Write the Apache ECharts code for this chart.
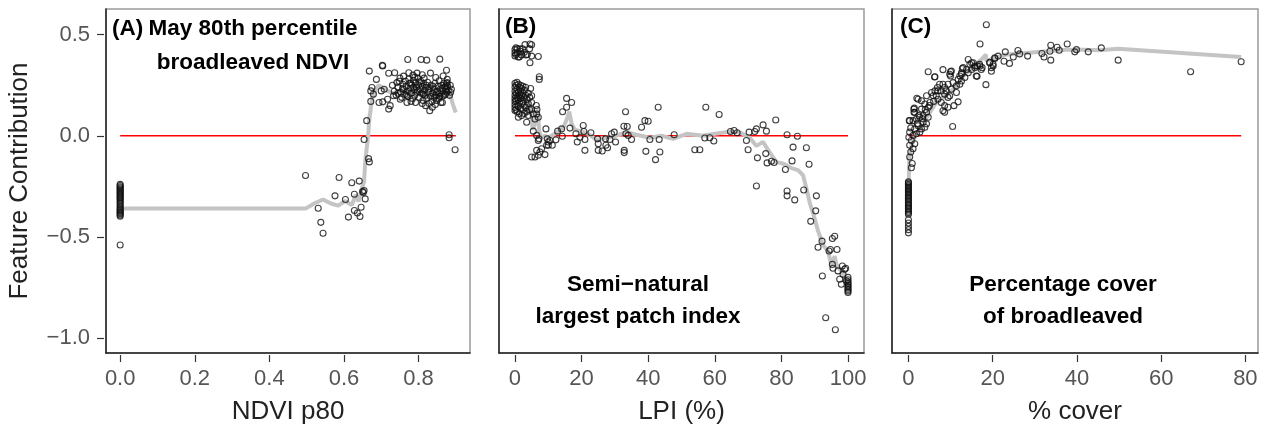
<!DOCTYPE html>
<html>
<head>
<meta charset="utf-8">
<title>Feature contribution</title>
<script src="https://cdn.jsdelivr.net/npm/echarts@6/dist/echarts.min.js"></script>
<style>
  html, body { margin: 0; padding: 0; background: #fff; }
  #chart { width: 1266px; height: 430px; }
</style>
</head>
<body>
<div id="chart"></div>
<script type="text/javascript">
// y axis (shared)
var yTicks = [-1.0, -0.5, 0.0, 0.5];
var yRange = [-1.074, 0.627];

// (A) NDVI p80
var ndviTicks = [0, 0.2, 0.4, 0.6, 0.8];
var ndviRange = [-0.038, 0.938];
var ndviZero = [0, 0.9];
var ndviPoints = [
  [0,-0.24],[0,-0.246],[0,-0.252],[0,-0.257],[0,-0.262],[0,-0.268],[0,-0.273],[0,-0.279],[0,-0.284],[0,-0.29],
  [0,-0.296],[0,-0.302],[0,-0.307],[0,-0.313],[0,-0.32],[0,-0.327],[0,-0.334],[0,-0.342],[0,-0.35],[0,-0.357],
  [0,-0.363],[0,-0.368],[0,-0.374],[0,-0.38],[0,-0.386],[0,-0.392],[0,-0.398],[0,-0.54],
  [0.497,-0.196],[0.531,-0.358],[0.538,-0.428],[0.544,-0.482],[0.576,-0.297],[0.587,-0.206],[0.604,-0.315],
  [0.612,-0.402],[0.621,-0.232],[0.628,-0.289],[0.628,-0.369],[0.636,-0.382],[0.641,-0.224],[0.643,-0.399],
  [0.646,-0.353],[0.65,-0.276],[0.654,-0.271],[0.657,-0.312],[0.652,-0.28],[0.654,-0.018],[0.661,0.075],
  [0.666,-0.113],[0.668,-0.129],
  [0.771,0.377],[0.807,0.377],[0.822,0.374],[0.857,0.379],[0.703,0.348],[0.704,0.345],[0.668,0.32],[0.72,0.309],
  [0.736,0.312],[0.875,0.324],[0.774,0.312],[0.796,0.31],[0.832,0.31],[0.846,0.288],[0.866,0.296],[0.687,0.279],
  [0.742,0.263],[0.785,0.3],[0.81,0.302],[0.76,0.295],[0.79,0.29],[0.75,0.285],[0.815,0.285],[0.855,0.272],
  [0.877,0.279],[0.877,0.263],[0.873,0.247],
  [0.73,0.25],[0.735,0.22],[0.74,0.2],[0.745,0.24],[0.748,0.27],[0.752,0.215],[0.755,0.19],[0.758,0.255],
  [0.76,0.23],[0.763,0.205],[0.765,0.27],[0.767,0.245],[0.77,0.22],[0.772,0.195],[0.774,0.28],[0.776,0.26],
  [0.778,0.235],[0.78,0.21],[0.782,0.25],[0.784,0.185],[0.786,0.275],[0.788,0.228],[0.79,0.2],[0.792,0.262],
  [0.794,0.24],[0.796,0.215],[0.798,0.285],[0.8,0.25],[0.802,0.19],[0.804,0.23],[0.806,0.27],[0.808,0.21],
  [0.81,0.245],[0.812,0.175],[0.814,0.26],[0.816,0.225],[0.818,0.2],[0.82,0.24],[0.822,0.185],[0.824,0.265],
  [0.826,0.215],[0.828,0.16],[0.83,0.235],[0.832,0.195],[0.834,0.25],[0.836,0.17],[0.838,0.21],[0.84,0.23],
  [0.842,0.19],[0.844,0.26],[0.846,0.2],[0.848,0.175],[0.85,0.22],[0.852,0.245],[0.854,0.185],[0.856,0.21],
  [0.858,0.23],[0.86,0.165],[0.862,0.25],[0.864,0.195],[0.866,0.22],[0.868,0.26],[0.87,0.24],[0.872,0.205],
  [0.874,0.23],[0.876,0.215],[0.878,0.245],[0.88,0.225],[0.883,0.2],
  [0.745,0.21],[0.757,0.235],[0.768,0.2],[0.779,0.26],[0.787,0.24],[0.797,0.225],[0.803,0.265],[0.813,0.205],
  [0.821,0.25],[0.827,0.23],[0.839,0.245],[0.847,0.215],[0.857,0.195],[0.863,0.235],[0.869,0.2],[0.875,0.26],
  [0.885,0.25],[0.888,0.23],[0.886,0.215],
  [0.83,0.124],[0.837,0.141],[0.819,0.149],[0.792,0.165],[0.769,0.165],[0.751,0.181],[0.864,0.165],[0.72,0.132],
  [0.724,0.149],[0.717,0.181],[0.733,0.198],[0.694,0.165],[0.704,0.168],[0.672,0.17],[0.7,0.222],[0.708,0.23],
  [0.675,0.239],[0.672,0.222],[0.679,0.206],[0.845,0.155],[0.78,0.17],[0.81,0.16],
  [0.882,0.005],[0.882,-0.01],[0.898,-0.069]
];
var ndviCurve = [
  [0,-0.36],[0.497,-0.36],[0.52,-0.335],[0.544,-0.315],[0.565,-0.335],[0.585,-0.345],[0.603,-0.322],
  [0.621,-0.342],[0.632,-0.292],[0.639,-0.325],[0.648,-0.26],[0.654,-0.227],[0.657,-0.13],[0.661,-0.06],
  [0.665,0.0],[0.668,0.08],[0.675,0.18],[0.685,0.23],[0.693,0.25],[0.702,0.24],[0.711,0.23],[0.729,0.21],
  [0.745,0.22],[0.76,0.225],[0.775,0.22],[0.79,0.215],[0.805,0.21],[0.82,0.2],[0.835,0.195],[0.85,0.19],
  [0.862,0.2],[0.87,0.215],[0.877,0.225],[0.885,0.2],[0.893,0.15],[0.9,0.115]
];

// (B) LPI (%)
var lpiTicks = [0, 20, 40, 60, 80, 100];
var lpiRange = [-4.8, 104.8];
var lpiZero = [0, 100];
var lpiPoints = [
  [0,0.426],[0,0.41],[0,0.395],[0.3,0.402],[0.3,0.435],[0.7,0.43],[0.7,0.41],[1,0.39],[1.3,0.39],[1.7,0.418],
  [2.3,0.43],[2.8,0.413],[3,0.451],[3.3,0.4],[3.7,0.402],[4.5,0.361],[4.5,0.454],[5,0.45],[5,0.394],[7,0.392],
  [7.3,0.292],[7.3,0.279],[4.4,0.43],[2,0.4],[1.5,0.43],
  [0,0.26],[0,0.24],[0,0.22],[0,0.2],[0,0.185],[0,0.17],[0,0.155],[0,0.14],[0,0.125],[0.3,0.25],[0.3,0.21],
  [0.3,0.175],[0.3,0.13],[0.6,0.265],[0.6,0.23],[0.6,0.19],[0.6,0.15],[0.6,0.12],[1,0.255],[1,0.215],[1,0.18],
  [1,0.145],[1,0.092],[1.3,0.24],[1.3,0.2],[1.3,0.165],[1.3,0.11],[1.7,0.25],[1.7,0.22],[1.7,0.185],[1.7,0.135],
  [2,0.235],[2,0.2],[2,0.16],[2,0.1],[2.4,0.245],[2.4,0.21],[2.4,0.17],[2.4,0.13],[2.8,0.225],[2.8,0.19],
  [2.8,0.15],[2.8,0.11],[3.2,0.24],[3.2,0.2],[3.2,0.14],[3.5,0.067],[3.6,0.18],[3.6,0.12],[4,0.21],[4,0.16],
  [4,0.1],[4.4,0.19],[4.4,0.13],[4.7,0.234],[5,0.198],[5,0.165],[5,0.13],[5.5,0.108],[6,0.083],[6.5,0.108],
  [7,0.092],[6.4,0.15],[6.6,0.13],
  [5.5,0.023],[6.5,0.002],[7,-0.023],[7.2,-0.015],[6.5,-0.072],[6,-0.105],[7,-0.096],[7.5,-0.08],[9,-0.093],
  [5,-0.105],[8,-0.064],[9.5,-0.047],[10,-0.031],
  [9.3,0.034],[9.7,-0.015],[10,-0.047],[10.5,-0.023],[11.2,-0.047],[12.3,-0.02],[12.8,0.023],[14.2,-0.002],
  [14.3,0.119],[14,0.034],[15.5,0.141],[15.5,0.185],[17,0.165],[16.5,0.038],[18.3,0.01],[18.7,-0.031],
  [19.5,-0.007],[20.5,0.051],[20.7,0.021],[21,-0.018],[21,-0.072],[22.8,0.015],[24.8,-0.015],[25,-0.039],
  [25,-0.072],[26.2,-0.075],[27.2,-0.015],[27.3,-0.047],[27.8,-0.059],[28.5,-0.018],[29,0.01],[29.8,0.018],
  [30.2,-0.031],[32.7,0.047],[32.8,-0.072],[32.8,-0.083],[33.2,0.119],[33.7,0.046],[33.3,0.01],[34,0.002],
  [35,-0.018],[38,0.042],[39,0.075],[40,0.072],[39.3,-0.077],[40.5,-0.018],[42.2,-0.118],[43,0.141],
  [43.3,-0.018],[43.5,-0.08],[47.8,0.005],[54,-0.069],[55.5,-0.069],[57.3,0.141],[57,-0.011],[58.5,-0.01],
  [59.7,-0.026],[61.3,0.105],[64.7,0.021],[65.8,0.026],[66.7,0.015],[69.5,-0.023],[70,-0.069],[70.3,0.018],
  [72,0.021],[72.5,0.034],[72.5,-0.248],[72.8,-0.109],[74.5,0.054],[75.3,-0.088],[75.5,0.023],[75.7,-0.134],
  [77,-0.126],[77.8,-0.132],[78.3,0.078],[81.2,-0.167],[81.7,0.005],[81.7,-0.273],[81.7,-0.297],[83.2,-0.124],
  [83.5,-0.056],[84,-0.317],[84.8,-0.002],[86.7,-0.268],[87.5,-0.059],[88.3,-0.141],[88.8,-0.423],[90.3,-0.371],
  [90.5,-0.297],[91,-0.551],[92.2,-0.521],[92.3,-0.693],[93.3,-0.9],[94.3,-0.57],[94.7,-0.562],[95.3,-0.508],
  [96,-0.497],[95.3,-0.636],[95.5,-0.655],[96.2,-0.959],[96.7,-0.562],[97,-0.668],[97.5,-0.709],[98.3,-0.644],
  [98,-0.734],[98.5,-0.685],[99,-0.66],[99.3,-0.655],[99.5,-0.717],
  [100,-0.70],[100,-0.712],[100,-0.722],[100,-0.73],[100,-0.738],[100,-0.745],[100,-0.752],[100,-0.76],
  [100,-0.768],[100,-0.775]
];
var lpiCurve = [
  [0,0.2],[2,0.19],[4,0.17],[4.8,0.12],[5.3,0.03],[6,0.06],[6.8,0.13],[7.3,0.02],[8,-0.01],[9,0.0],[10,-0.01],
  [12,0.01],[13.5,0.03],[14.5,0.04],[15.5,0.08],[16.3,0.12],[17,0.06],[18,0.03],[20,0.02],[22,0.01],
  [24.5,-0.02],[27,-0.01],[29.5,-0.005],[33.5,0.02],[36.5,0.005],[40.5,-0.01],[44,0.0],[47.5,-0.015],
  [51.5,0.01],[56.5,0.0],[60,0.01],[64.5,0.02],[67.5,0.018],[70.5,-0.01],[72.5,-0.05],[74.5,-0.03],[76,-0.07],
  [78.5,-0.13],[80,-0.135],[81.5,-0.145],[83,-0.16],[85,-0.17],[86.5,-0.195],[87.5,-0.26],[88.5,-0.33],
  [90,-0.41],[91,-0.47],[92.5,-0.54],[94,-0.57],[95,-0.64],[96,-0.595],[96.5,-0.636],[98,-0.67],[99,-0.7],
  [100,-0.75]
];

// (C) % cover
var coverTicks = [0, 20, 40, 60, 80];
var coverRange = [-3.9, 83];
var coverZero = [0, 79];
var coverPoints = [
  [0,-0.227],[0,-0.233],[0,-0.24],[0,-0.247],[0,-0.254],[0,-0.261],[0,-0.268],[0,-0.275],[0,-0.282],[0,-0.289],
  [0,-0.296],[0,-0.303],[0,-0.31],[0,-0.317],[0,-0.324],[0,-0.331],[0,-0.338],[0,-0.345],[0,-0.352],[0,-0.359],
  [0,-0.366],[0,-0.373],[0,-0.38],[0,-0.388],[0,-0.415],[0,-0.431],[0,-0.448],[0,-0.464],[0,-0.48],
  [0.7,-0.158],[0.9,-0.137],[0.3,-0.105],[0.55,-0.08],[1.1,-0.064],[0.3,-0.047],[1.5,-0.039],[0.7,-0.023],
  [0.1,-0.007],[1.1,0.002],[1.9,0.01],[0.3,0.018],[2.7,0.018],[1.5,0.034],[0.55,0.039],[3.1,0.034],[2.3,0.05],
  [3.9,0.042],[0.3,0.075],[1.1,0.075],[3.5,0.067],[4.3,0.059],[1.9,0.083],[2.7,0.092],[3.5,0.1],[4.7,0.092],
  [4.3,0.116],[1.5,0.116],[1.3,0.132],[3.1,0.132],[4.7,0.141],[3.9,0.157],[5.1,0.165],[2.3,0.181],[3.1,0.173],
  [4.3,0.198],[5.9,0.198],[6.3,0.222],[6.9,0.239],[7.4,0.255],[8.2,0.255],[9.4,0.255],[8.6,0.239],[7.8,0.222],
  [8.6,0.206],[9.8,0.198],[7,0.181],[7.8,0.165],[8.6,0.149],[8.2,0.124],[8.6,0.116],[9.4,0.141],[10.8,0.149],
  [11.8,0.168],[11.4,0.214],[10.5,0.046],[2,0.186],[1.4,0.137],[1.3,0.116],[0.2,0.075],
  [5.5,0.214],[6.6,0.198],[7,0.222],[9,0.222],[9.4,0.19],[10.2,0.23],[10.6,0.263],[11.4,0.247],[12.2,0.255],
  [12.6,0.271],[13.4,0.288],[14.2,0.312],[15,0.328],[2.5,0.1],[3.3,0.085],[4,0.13],[5,0.15],[6,0.17],[2.1,0.06],
  [4.7,0.317],[6.2,0.291],[8.2,0.327],[10,0.317],[10,0.296],[18.4,0.253],[16.3,0.294],[18.5,0.549],[17,0.454],
  [6.3,0.292],[9.8,0.304],[10.2,0.32],[11.8,0.279],[12.6,0.304],[13,0.337],[13.8,0.328],[14.6,0.353],
  [15.4,0.361],[16.1,0.296],[15.8,0.337],[17,0.345],[17.5,0.337],[19.3,0.361],[19.7,0.337],[20.1,0.353],
  [20.5,0.386],[21.3,0.394],[14.2,0.377],[15,0.361],[15.8,0.345],[16.4,0.345],[16.9,0.353],[17.3,0.328],
  [12.8,0.332],[12.6,0.312],[12.2,0.296],[20.1,0.345],[20.5,0.382],[19.3,0.363],[19.7,0.319],
  [23,0.415],[22.7,0.369],[24,0.358],[24.9,0.39],[26,0.422],[26.4,0.405],[28.3,0.394],[31.7,0.407],[32.2,0.39],
  [33.6,0.418],[33.8,0.448],[33.8,0.374],[35.3,0.438],[35.8,0.423],[37.7,0.454],[39.5,0.415],[39.9,0.426],
  [42.7,0.415],[45.8,0.435],[49.8,0.374],[67,0.317],[79,0.366]
];
var coverCurve = [
  [0,-0.3],[0.2,-0.11],[0.7,-0.05],[1.5,-0.007],[2.7,0.034],[3.9,0.075],[5.1,0.116],[6.6,0.165],[8.2,0.19],
  [9.8,0.214],[11.4,0.247],[13,0.296],[14.6,0.328],[16.1,0.353],[17.3,0.377],[18.4,0.402],[18.5,0.369],
  [20.5,0.386],[23.3,0.402],[28,0.41],[32.8,0.418],[37.5,0.426],[41.5,0.426],[45.4,0.423],[49.8,0.431],
  [79,0.39]
];

var chart = echarts.init(document.getElementById('chart'));
var FONT = '"Liberation Sans", Arial, Helvetica, sans-serif';

var grids = [
  { left: 106, top: 9, width: 364, height: 347 },
  { left: 499, top: 9, width: 365, height: 347 },
  { left: 892, top: 9, width: 366, height: 347 }
];
var panels = [
  { ticks: ndviTicks, range: ndviRange, zero: ndviZero, points: ndviPoints, curve: ndviCurve, name: 'NDVI p80', digits: 1 },
  { ticks: lpiTicks, range: lpiRange, zero: lpiZero, points: lpiPoints, curve: lpiCurve, name: 'LPI (%)', digits: 0 },
  { ticks: coverTicks, range: coverRange, zero: coverZero, points: coverPoints, curve: coverCurve, name: '% cover', digits: 0 }
];

function fmt(v, d) {
  var s = Math.abs(v).toFixed(d);
  return (v < 0 ? '\u2212' : '') + s;
}

var xAxes = [], yAxes = [], series = [];
panels.forEach(function (p, i) {
  grids[i].show = true;
  grids[i].borderColor = '#9a9a9a';
  grids[i].borderWidth = 1.5;
  // box line
  xAxes.push({
    type: 'value', gridIndex: i, min: p.range[0], max: p.range[1], position: 'bottom',
    axisLine: { show: true, onZero: false, lineStyle: { color: '#222', width: 1.5 } },
    axisTick: { show: false }, axisLabel: { show: false }, splitLine: { show: false }
  });
  // ticks + labels
  xAxes.push({
    type: 'value', gridIndex: i, min: p.range[0], max: p.range[1], position: 'bottom', offset: 2,
    axisLine: { show: false, onZero: false },
    axisTick: { show: true, length: 7, customValues: p.ticks, lineStyle: { color: '#333', width: 1.2 } },
    axisLabel: { show: true, customValues: p.ticks, margin: 13, color: '#555', fontSize: 22, fontFamily: FONT,
      formatter: function (v) { return fmt(v, p.digits); } },
    splitLine: { show: false },
    name: p.name, nameLocation: 'middle', nameGap: 44,
    nameTextStyle: { color: '#222', fontSize: 26, fontFamily: FONT }
  });
  yAxes.push({
    type: 'value', gridIndex: i, min: yRange[0], max: yRange[1], position: 'left',
    axisLine: { show: true, onZero: false, lineStyle: { color: '#222', width: 1.5 } },
    axisTick: { show: false }, axisLabel: { show: false }, splitLine: { show: false }
  });
  if (i === 0) {
    yAxes.push({
      type: 'value', gridIndex: i, min: yRange[0], max: yRange[1], position: 'left', offset: 2,
      axisLine: { show: false, onZero: false },
      axisTick: { show: true, length: 7, customValues: yTicks, lineStyle: { color: '#333', width: 1.2 } },
      axisLabel: { show: true, customValues: yTicks, margin: 14, color: '#555', fontSize: 22, fontFamily: FONT,
        formatter: function (v) { return fmt(v, 1); } },
      splitLine: { show: false },
      name: 'Feature Contribution', nameLocation: 'middle', nameGap: 71,
      nameTextStyle: { color: '#222', fontSize: 26, fontFamily: FONT }
    });
  }
  var xi = i * 2;
  var yi = i === 0 ? 0 : i + 1;
  series.push({
    type: 'line', xAxisIndex: xi, yAxisIndex: yi, data: [[p.zero[0], 0], [p.zero[1], 0]],
    symbol: 'none', lineStyle: { color: '#ff0000', width: 1.5 }, silent: true, z: 1
  });
  series.push({
    type: 'line', xAxisIndex: xi, yAxisIndex: yi, data: p.curve,
    symbol: 'none', lineStyle: { color: '#c4c4c4', width: 4 }, silent: true, z: 2
  });
  series.push({
    type: 'scatter', xAxisIndex: xi, yAxisIndex: yi, data: p.points,
    symbol: 'circle', symbolSize: 6,
    itemStyle: { color: 'rgba(0,0,0,0)', borderColor: '#111', borderWidth: 1.1 }, z: 3
  });
});

function label(text, x, y, align, lh) {
  return {
    type: 'text', x: x, y: y, z: 10,
    style: { text: text, font: 'bold 22.5px ' + FONT, fill: '#000', textAlign: align,
      textVerticalAlign: 'middle', lineHeight: lh || 33 }
  };
}

chart.setOption({
  animation: false,
  grid: grids,
  xAxis: xAxes,
  yAxis: yAxes,
  series: series,
  graphic: [
    label('(A)', 112, 29, 'left'),
    label('May 80th percentile\nbroadleaved NDVI', 253, 46, 'center', 34),
    label('(B)', 505, 27, 'left'),
    label('Semi\u2212natural\nlargest patch index', 638, 301, 'center', 32),
    label('(C)', 900, 27, 'left'),
    label('Percentage cover\nof broadleaved', 1063, 301, 'center', 32)
  ]
});
</script>
</body>
</html>
